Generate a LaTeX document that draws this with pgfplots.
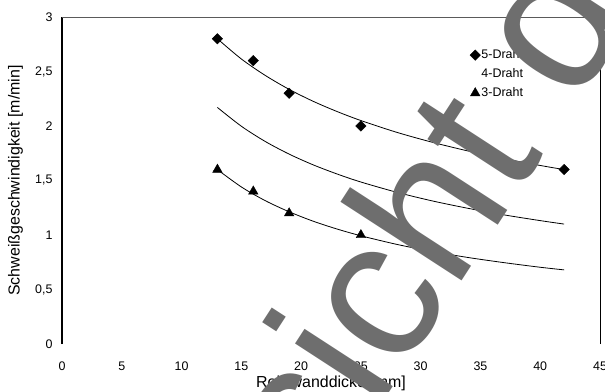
\documentclass[border=0pt]{standalone}
\usepackage{fontspec}
\setmainfont{Liberation Sans}
\usepackage{pgfplots}
\pgfplotsset{compat=1.18}
\definecolor{wm}{RGB}{110,110,110}
\definecolor{topline}{RGB}{90,90,90}
\begin{document}
\begin{tikzpicture}
\begin{axis}[
  at={(62bp,48bp)}, anchor=south west,
  scale only axis, width=538bp, height=327bp,
  xmin=0, xmax=45, ymin=0, ymax=3,
  xtick={0,5,...,45}, ytick={0,0.5,...,3},
  major tick length=0pt,
  axis line style={draw=none},
  /pgf/number format/assume math mode=true,
  /pgf/number format/use comma,
  ticklabel style={font=\fontsize{12.5}{14}\selectfont},
  xticklabel style={yshift=-14bp},
  yticklabel style={xshift=-6bp},
  xlabel={Rohrwanddicke [mm]},
  ylabel={Schweißgeschwindigkeit [m/min]},
  label style={font=\fontsize{16}{18}\selectfont},
  xlabel style={at={(axis description cs:0.5,-0.1193)}, anchor=center},
  ylabel style={at={(axis description cs:-0.0864,0.5)}, anchor=center},
  clip=false,
  legend image code/.code={\draw[#1] plot coordinates {(5bp,0bp)};},
  legend cell align=left,
  legend style={at={(rel axis cs:0.758,0.904)}, anchor=north west,
    draw=none, fill=none, inner sep=0pt,
    font=\fontsize{12.5}{14}\selectfont, row sep=6bp,
    nodes={inner sep=1bp, text height=9bp, text depth=2bp}},
]
\draw[black, line width=1.5bp] (rel axis cs:0,0) -- (rel axis cs:0,1);
\draw[topline, line width=0.9bp] (rel axis cs:0,1) -- (rel axis cs:1,1);
\draw[black, line width=0.7bp] (rel axis cs:1,0) -- (rel axis cs:1,1);

% trend lines
\addplot[black, line width=0.8bp, smooth, forget plot] coordinates {
(13,2.800) (15,2.615) (17,2.464) (19,2.336) (21,2.227) (23,2.133) (25,2.050)
(28,1.942) (31,1.850) (34,1.770) (37,1.700) (40,1.638) (42,1.600)};
\addplot[black, line width=0.8bp, smooth, forget plot] coordinates {
(13,2.170) (15,1.998) (17,1.858) (19,1.742) (21,1.644) (23,1.560) (25,1.486)
(28,1.392) (31,1.312) (34,1.244) (37,1.184) (40,1.132) (42,1.100)};
\addplot[black, line width=0.8bp, smooth, forget plot] coordinates {
(13,1.600) (15,1.441) (17,1.315) (19,1.213) (21,1.127) (23,1.055) (25,0.993)
(28,0.914) (31,0.848) (34,0.793) (37,0.746) (40,0.704) (42,0.680)};

\addplot[only marks, mark=square*, mark size=3.7bp, mark options={rotate=45, fill=black, draw=black}]
coordinates {(13,2.8) (16,2.6) (19,2.3) (25,2.0) (42,1.6)};
\addlegendentry{5-Draht}
\addlegendimage{empty legend}
\addlegendentry{4-Draht}
\addplot[only marks, mark=triangle*, mark size=5.5bp, mark options={fill=black, draw=black}]
coordinates {(13,1.6) (16,1.4) (19,1.2) (25,1.0)};
\addlegendentry{3-Draht}
\end{axis}
\node[rotate=57, anchor=base west, inner sep=0pt, text=wm, font=\fontsize{200}{200}\selectfont] at (376bp,-21bp) {icht der};
\node[rotate=57, anchor=base east, inner sep=0pt, text=wm, font=\fontsize{200}{200}\selectfont] at (376bp,-21bp) {Ans};
\pgfresetboundingbox
\useasboundingbox (0,0) rectangle (605bp,392bp);
\end{tikzpicture}
\end{document}
